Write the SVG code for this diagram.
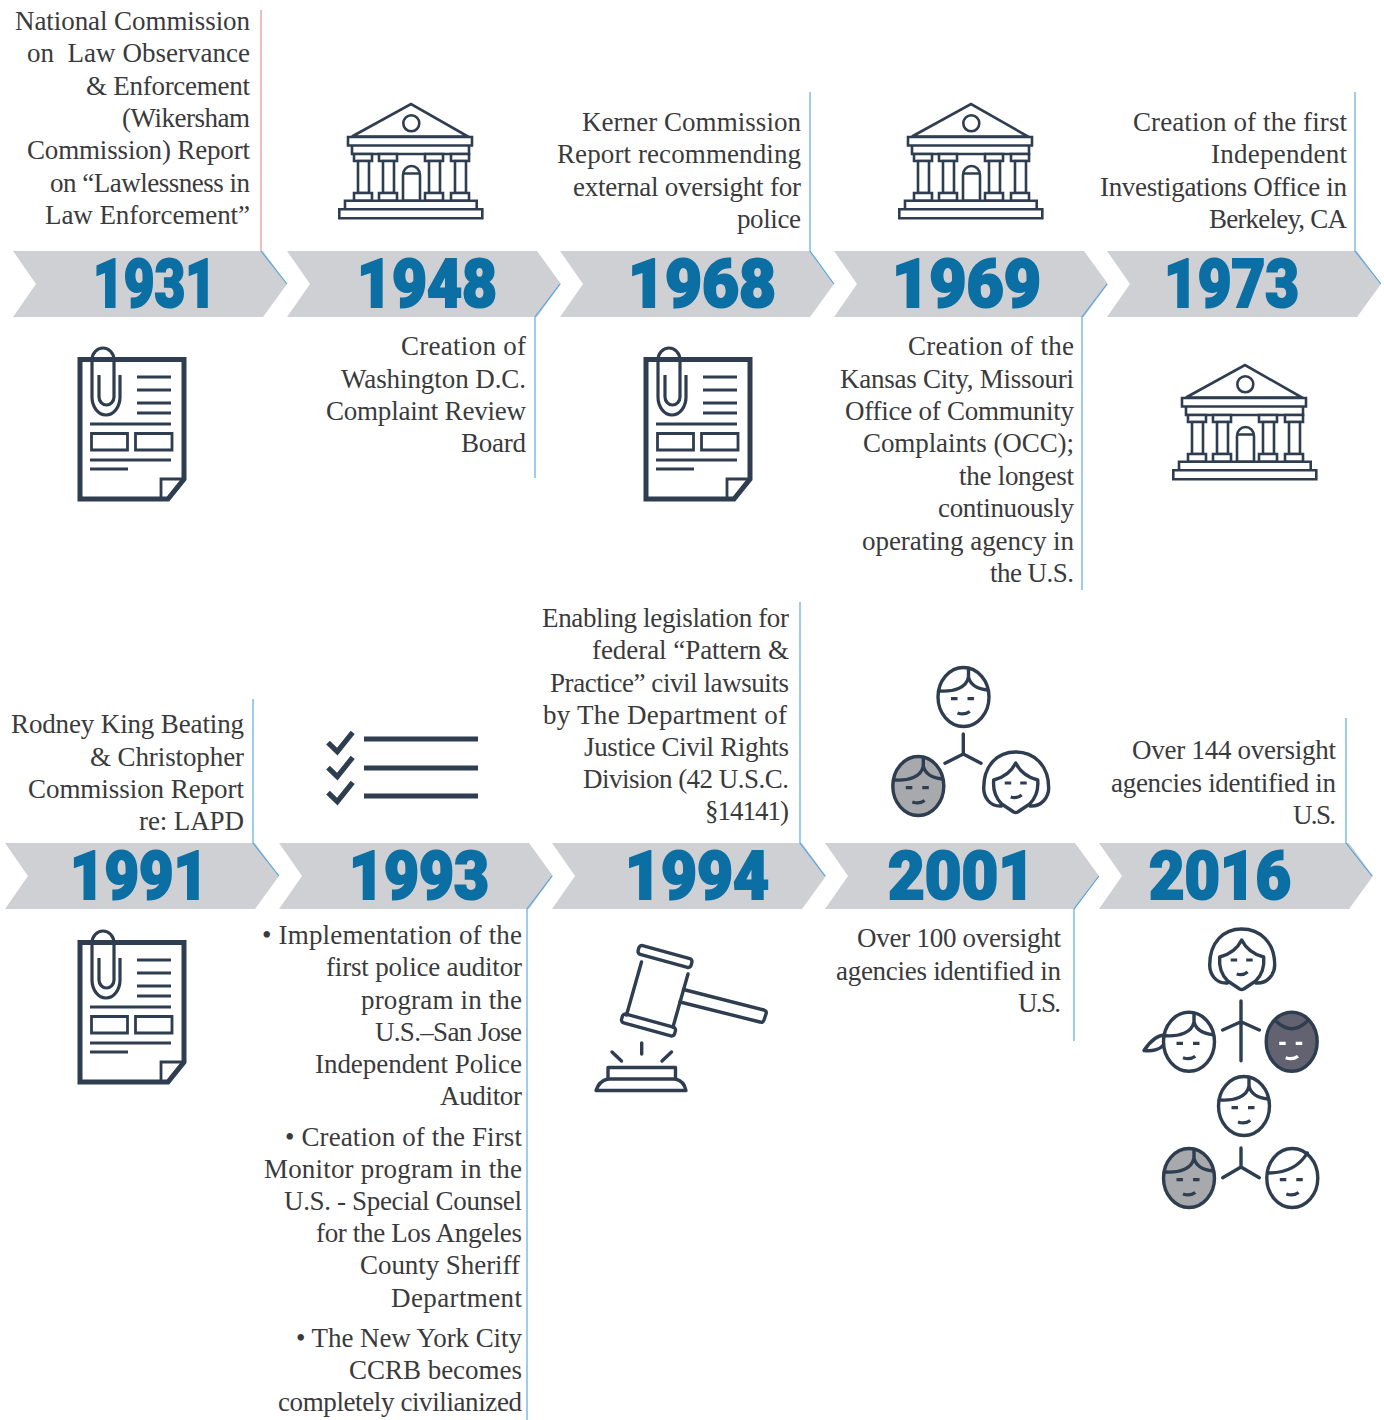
<svg xmlns="http://www.w3.org/2000/svg" width="1384" height="1420" viewBox="0 0 1384 1420">
<style>
.t{font-family:"Liberation Serif",serif;font-size:27px;fill:#3a3a3c;text-anchor:end;white-space:pre}
.y{font-family:"Roboto","Liberation Sans",sans-serif;font-weight:900;font-size:67px;fill:#0b6fa4;stroke:#0b6fa4;stroke-width:2.200px}
.b{fill:#cfd0d3}
.c{fill:none;stroke:#4fa3dc;stroke-width:1.100}
.w{fill:#fff;stroke:#2e3d4f;stroke-width:2.600}
.f{stroke:#2e3d4f;stroke-width:3.400;fill:none;stroke-linecap:round;stroke-linejoin:round}
</style>
<defs>
<polygon id="chev" class="b" points="0,0 250,0 274,33 250,66 0,66 23,33"/>
<g id="doc">
<path d="M80,359.500H184V479L168,499H80Z" fill="#fff" stroke="#2e3d4f" stroke-width="5"/>
<path d="M161,499V479H184" fill="none" stroke="#2e3d4f" stroke-width="2.800"/>
<path d="M120,375V397A14,18 0 0 1 92,397V360A11,12 0 0 1 114,360V397A7.500,8 0 0 1 99,397V375" fill="none" stroke="#2e3d4f" stroke-width="3.200"/>
<path d="M137,377H171M137,390H171M137,403H171M137,413H171M90,424H171M90,460H171M90,469H128" stroke="#2e3d4f" stroke-width="3.200" fill="none"/>
<path d="M91.500,433.500H127.500V450H91.500ZM135.500,433.500H172V450H135.500Z" stroke="#2e3d4f" stroke-width="2.800" fill="none"/>
</g>
<g id="bank">
<path class="w" d="M352,136.500L411,104L468,136.500Z"/>
<circle class="w" cx="411.300" cy="123.300" r="8"/>
<path class="w" d="M348,137H472V145.500H348ZM352,145.500H469V154H352Z"/>
<path class="w" d="M354,154H372V161H354ZM379,154H397V161H379ZM425,154H443V161H425ZM451,154H469V161H451Z"/>
<path class="w" d="M358,161H369V193H358ZM383,161H394V193H383ZM429,161H440V193H429ZM455,161H466V193H455Z"/>
<path class="w" d="M354,193H372V200.700H354ZM379,193H397V200.700H379ZM425,193H443V200.700H425ZM451,193H469V200.700H451Z"/>
<path class="w" d="M403,200.700V175A8.500,9 0 0 1 420,175V200.700ZM403,173.500H420"/>
<path class="w" d="M345,200.700H476.700V209.300H345ZM339.300,209.300H482.300V218.300H339.300Z"/>
</g>
<g id="eyes"><path d="M-12.500,1.700H-6M4,1.700H10.500M-6,16Q1,18.500 6.300,14.500" fill="none" stroke-width="3.200"/></g>
<g id="boy">
<ellipse rx="25.500" ry="29.500"/>
<path d="M-24,-6C-10,-5 3,-9 5,-20C7,-11 15,-8 24,-7M5,-28Q5,-24 5,-20" class="f"/>
</g>
<g id="woman">
<path class="f" d="M-14,23C-26,24 -32,14 -32,5C-32,-18 -18,-31 0,-31C18,-31 33,-18 33,5C33,14 26,24 14,23"/>
<path class="f" d="M0,-20C-5,-10 -14,-5 -22,-3C-23,8 -20,15 -14,21L-2,29Q0,30 2,29L14,21C20,15 23,8 22,-3C14,-5 5,-10 0,-20Z"/>
<path d="M-11,0H-4.500M4.500,0H11M-5,14Q1,16 6,12" fill="none" stroke="#2e3d4f" stroke-width="3.200"/>
</g>
</defs>

<g id="node-1931"><use href="#chev" x="13" y="251"/><text class="y" x="93" y="307" textLength="123" lengthAdjust="spacingAndGlyphs">1931</text>
<text class="t" x="250" y="30" textLength="235">National Commission</text><text class="t" x="250" y="62" textLength="223">on  Law Observance</text><text class="t" x="250" y="95" textLength="164">&amp; Enforcement</text><text class="t" x="250" y="127" textLength="128">(Wikersham</text><text class="t" x="250" y="159" textLength="223">Commission) Report</text><text class="t" x="250" y="192" textLength="200">on “Lawlessness in</text><text class="t" x="250" y="224" textLength="205">Law Enforcement”</text>
<use href="#doc"/></g>

<g id="node-1948"><use href="#chev" x="287" y="251"/><text class="y" x="357" y="307" textLength="140" lengthAdjust="spacingAndGlyphs">1948</text>
<text class="t" x="526" y="355" textLength="125">Creation of</text><text class="t" x="526" y="388" textLength="185">Washington D.C.</text><text class="t" x="526" y="420" textLength="200">Complaint Review</text><text class="t" x="526" y="452" textLength="65">Board</text>
<use href="#bank"/></g>

<g id="node-1968"><use href="#chev" x="560" y="251"/><text class="y" x="628" y="307" textLength="148" lengthAdjust="spacingAndGlyphs">1968</text>
<text class="t" x="801" y="131" textLength="219">Kerner Commission</text><text class="t" x="801" y="163" textLength="244">Report recommending</text><text class="t" x="801" y="196" textLength="228">external oversight for</text><text class="t" x="801" y="228" textLength="64">police</text>
<use href="#doc" x="566"/></g>

<g id="node-1969"><use href="#chev" x="834" y="251"/><text class="y" x="892" y="307" textLength="149" lengthAdjust="spacingAndGlyphs">1969</text>
<text class="t" x="1074" y="355" textLength="166">Creation of the</text><text class="t" x="1074" y="388" textLength="234">Kansas City, Missouri</text><text class="t" x="1074" y="420" textLength="229">Office of Community</text><text class="t" x="1074" y="452" textLength="211">Complaints (OCC);</text><text class="t" x="1074" y="485" textLength="115">the longest</text><text class="t" x="1074" y="517" textLength="136">continuously</text><text class="t" x="1074" y="550" textLength="212">operating agency in</text><text class="t" x="1074" y="582" textLength="84">the U.S.</text>
<use href="#bank" x="560"/></g>

<g id="node-1973"><use href="#chev" x="1107" y="251"/><text class="y" x="1164" y="307" textLength="135" lengthAdjust="spacingAndGlyphs">1973</text>
<text class="t" x="1347" y="131" textLength="214">Creation of the first</text><text class="t" x="1347" y="163" textLength="136">Independent</text><text class="t" x="1347" y="196" textLength="247">Investigations Office in</text><text class="t" x="1347" y="228" textLength="138">Berkeley, CA</text>
<use href="#bank" x="834" y="261"/></g>

<g id="node-1991"><use href="#chev" x="5" y="843"/><text class="y" x="70" y="899" textLength="138" lengthAdjust="spacingAndGlyphs">1991</text>
<text class="t" x="244" y="733" textLength="233">Rodney King Beating</text><text class="t" x="244" y="766" textLength="154">&amp; Christopher</text><text class="t" x="244" y="798" textLength="216">Commission Report</text><text class="t" x="244" y="830" textLength="105">re: LAPD</text>
<use href="#doc" y="583"/></g>

<g id="node-1993"><use href="#chev" x="279" y="843"/><text class="y" x="349" y="899" textLength="140" lengthAdjust="spacingAndGlyphs">1993</text>
<text class="t" x="522" y="944" textLength="260">• Implementation of the</text><text class="t" x="522" y="976" textLength="196">first police auditor</text><text class="t" x="522" y="1009" textLength="161">program in the</text><text class="t" x="522" y="1041" textLength="147">U.S.–San Jose</text><text class="t" x="522" y="1073" textLength="207">Independent Police</text><text class="t" x="522" y="1105" textLength="82">Auditor</text>
<text class="t" x="522" y="1146" textLength="237">• Creation of the First</text><text class="t" x="522" y="1178" textLength="258">Monitor program in the</text><text class="t" x="522" y="1210" textLength="238">U.S. - Special Counsel</text><text class="t" x="522" y="1242" textLength="206">for the Los Angeles</text><text class="t" x="520" y="1274" textLength="160">County Sheriff</text><text class="t" x="522" y="1307" textLength="131">Department</text>
<text class="t" x="522" y="1347" textLength="226">• The New York City</text><text class="t" x="522" y="1379" textLength="173">CCRB becomes</text><text class="t" x="522" y="1411" textLength="244">completely civilianized</text>
<path d="M364,739H478M364,768H478M364,796H478" stroke="#2e3d4f" stroke-width="5" fill="none"/>
<path d="M328,742.700L337.300,751.700L352.700,732.300M328,767.700L337.300,776.700L352.700,757.300M328,792.700L337.300,801.700L352.700,782.300" stroke="#2e3d4f" stroke-width="5.200" fill="none"/></g>

<g id="node-1994"><use href="#chev" x="552" y="843"/><text class="y" x="625" y="899" textLength="144" lengthAdjust="spacingAndGlyphs">1994</text>
<text class="t" x="789" y="627" textLength="247">Enabling legislation for</text><text class="t" x="789" y="659" textLength="197">federal “Pattern &amp;</text><text class="t" x="789" y="692" textLength="239">Practice” civil lawsuits</text><text class="t" x="787" y="724" textLength="244">by The Department of</text><text class="t" x="789" y="756" textLength="205">Justice Civil Rights</text><text class="t" x="789" y="788" textLength="206">Division (42 U.S.C.</text><text class="t" x="789" y="820" textLength="84">§14141)</text>
<g class="f">
<rect x="-27.500" y="-4.500" width="55" height="9" rx="3" transform="translate(665,956.500) rotate(15.500)"/>
<rect x="-27.500" y="-4.500" width="55" height="9" rx="3" transform="translate(648.500,1025) rotate(15.500)"/>
<path d="M641.500,962L626.500,1015M688,974L673,1027"/>
<path d="M683.500,989.500L764,1010Q767,1011 766,1014L764,1020Q763,1023 760,1022L680,1002"/>
<path d="M612,1052L621.500,1061M641.700,1043V1054M671.500,1052L662,1061"/>
<path d="M608,1079V1067.500H675.500V1079"/>
<path d="M596,1090.500Q599,1081 608,1079H675.500Q684,1081 686,1090.500Z"/>
</g></g>

<g id="node-2001"><use href="#chev" x="825" y="843"/><text class="y" x="888" y="899" textLength="147" lengthAdjust="spacingAndGlyphs">2001</text>
<text class="t" x="1061" y="947" textLength="204">Over 100 oversight</text><text class="t" x="1061" y="980" textLength="225">agencies identified in</text><text class="t" x="1061" y="1012" textLength="43">U.S.</text>
<use href="#boy" x="963.500" y="697" class="f"/><use href="#eyes" x="963.500" y="697" stroke="#2e3d4f"/>
<use href="#boy" x="918.300" y="786" class="f" style="fill:#a7a9ac"/><use href="#eyes" x="918.300" y="786" stroke="#2e3d4f"/>
<use href="#woman" x="1015.700" y="783"/>
<path class="f" d="M963.300,734V754M945,763.300L963.300,754L981,763.300"/></g>

<g id="node-2016"><use href="#chev" x="1099" y="843"/><text class="y" x="1149" y="899" textLength="142" lengthAdjust="spacingAndGlyphs">2016</text>
<text class="t" x="1336" y="759" textLength="204">Over 144 oversight</text><text class="t" x="1336" y="792" textLength="225">agencies identified in</text><text class="t" x="1336" y="824" textLength="43">U.S.</text>
<use href="#woman" x="1241.700" y="960"/>
<use href="#boy" x="1189" y="1041.700" class="f"/><use href="#eyes" x="1189" y="1041.700" stroke="#2e3d4f"/>
<path class="f" d="M1165,1035C1157,1035 1149,1043 1144,1050.500C1153,1051.500 1161,1049 1163.500,1044.500"/>
<g transform="translate(1291.700,1041.700)"><ellipse rx="25.500" ry="29.500" fill="#626271" stroke="#2e3d4f" stroke-width="3.400"/><path class="f" d="M-15,-20Q0,-6 15,-20"/><use href="#eyes" stroke="#fff"/></g>
<path class="f" d="M1241,1001V1060.700M1222.700,1030L1241,1021.700L1259.300,1030"/>
<use href="#boy" x="1244" y="1106" class="f"/><use href="#eyes" x="1244" y="1106" stroke="#2e3d4f"/>
<use href="#boy" x="1189" y="1178" class="f" style="fill:#a7a9ac"/><use href="#eyes" x="1189" y="1178" stroke="#2e3d4f"/>
<g transform="translate(1292.300,1178)"><ellipse rx="25.500" ry="29.500" class="f"/><path class="f" d="M-24,-5C-8,-5 6,-10 15,-25"/><use href="#eyes" stroke="#2e3d4f"/></g>
<path class="f" d="M1241,1148V1167M1222.700,1177.700L1241,1167L1259.300,1177.700"/></g>

<g id="connectors" class="c">
<path d="M261,10V251" style="stroke:#d98a8a"/>
<path d="M261,251L287,284"/>
<path d="M560,284L535,317V478"/>
<path d="M810,92V251L834,284"/>
<path d="M1107,284L1082,317V590"/>
<path d="M1355,92V251L1381,284"/>
<path d="M253,699V843L279,876"/>
<path d="M552,876L527,909V1420"/>
<path d="M800,602V843L825,876"/>
<path d="M1099,876L1074,909V1041"/>
<path d="M1346,718V843L1372,876"/>
</g>
</svg>
